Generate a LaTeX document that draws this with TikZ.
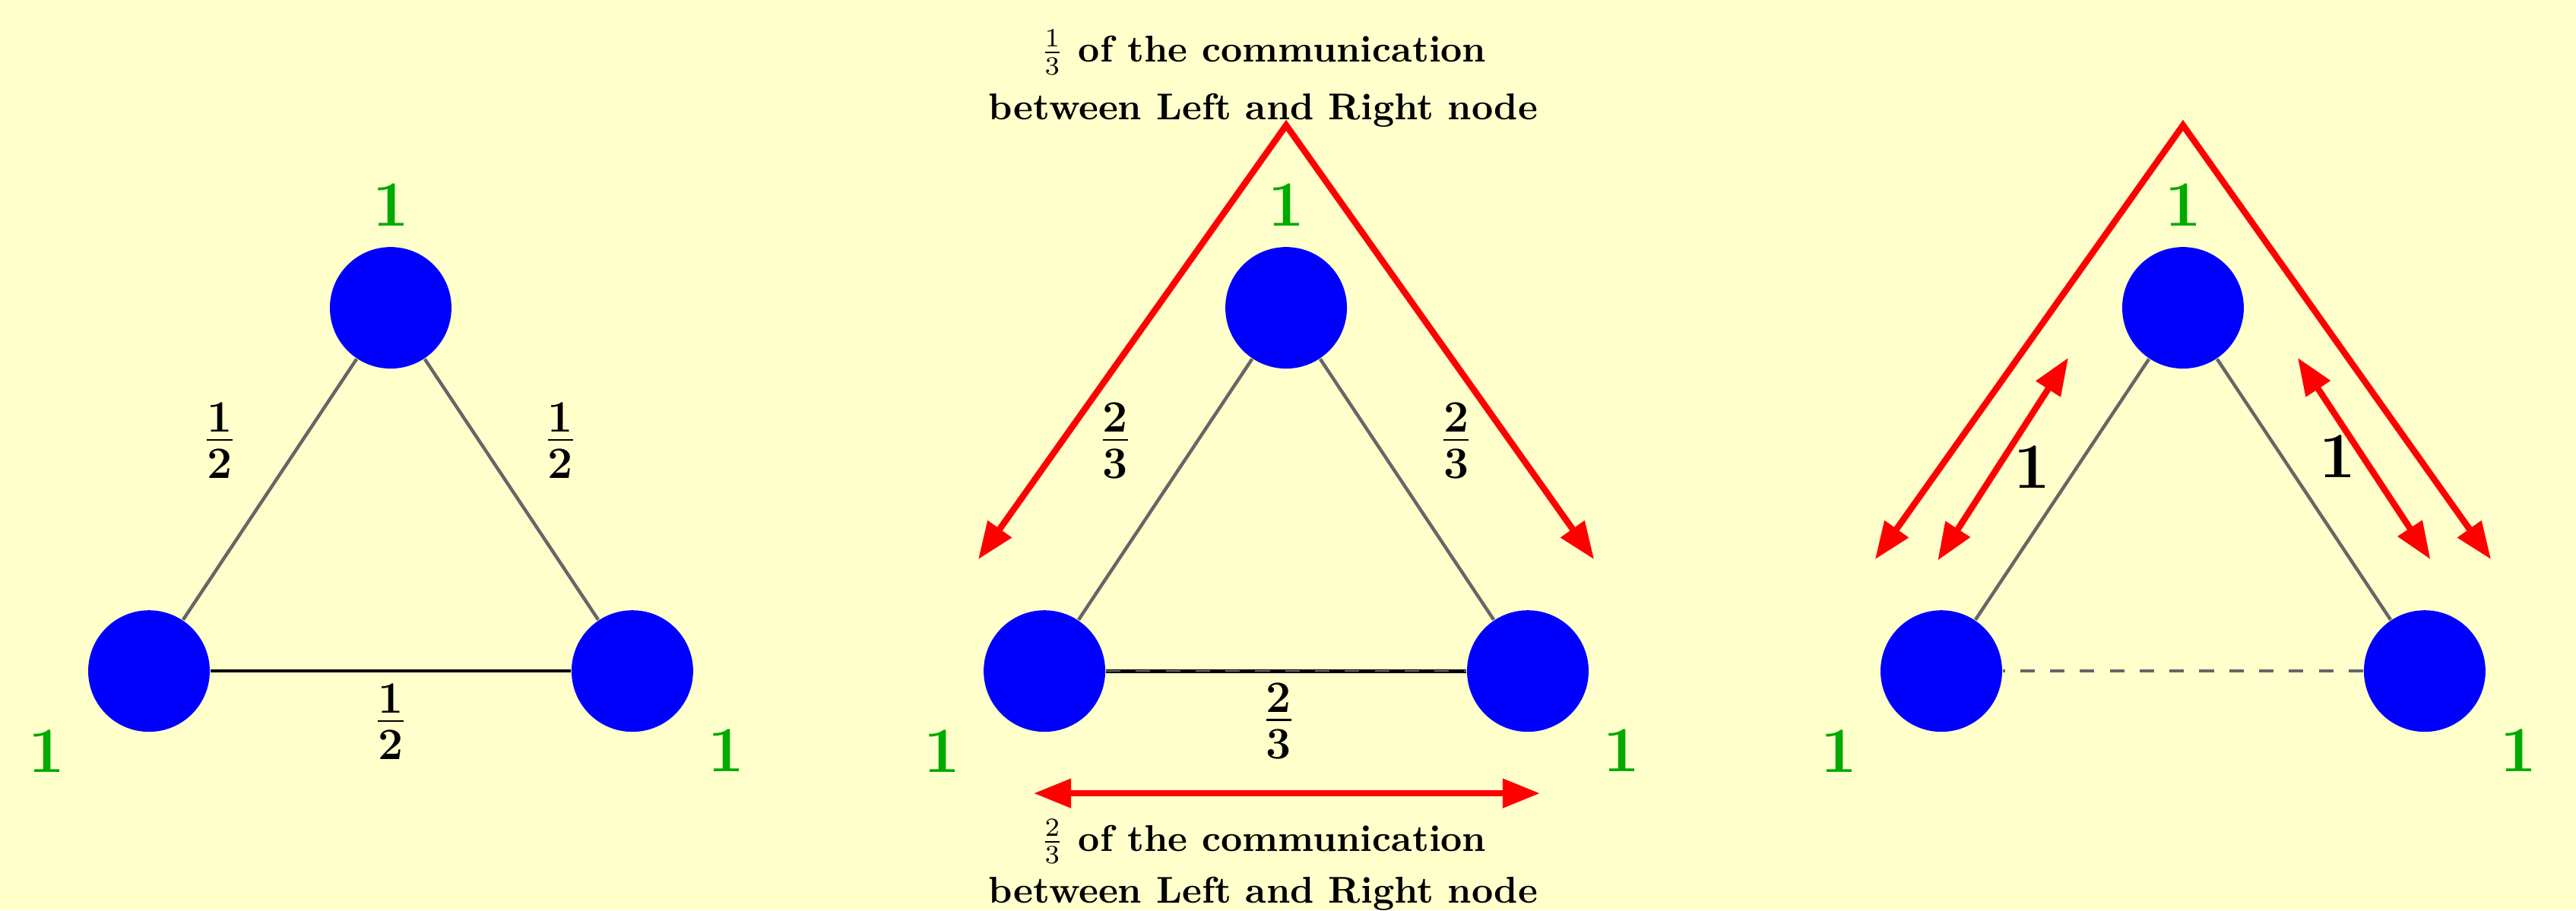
\documentclass[tikz,border=0pt]{standalone}
\usepackage{amsmath}
\usetikzlibrary{arrows.meta}
\definecolor{paper}{RGB}{255,255,204}
\definecolor{wgreen}{RGB}{0,170,0}
\newcommand{\edgefrac}[2]{\frac{\textstyle #1}{\textstyle\rule{0pt}{0.8em}#2}}
\begin{document}
\begin{tikzpicture}[
    vtx/.style={circle,fill=blue,inner sep=0pt,minimum size=1.145cm},
    lnk/.style={draw=black!60,line width=0.9pt},
    flow/.style={draw=red,line width=1.7pt,>={Triangle[length=10pt,width=7.5pt]},<->},
    lbl/.style={text=wgreen,font=\LARGE\bfseries},
    num/.style={font=\LARGE\bfseries},
    frc/.style={font=\large\boldmath},
    note/.style={font=\bfseries,align=center}]
  \useasboundingbox (0,0) rectangle (24.259,8.576);
  \fill[paper] (0,0) rectangle (24.259,8.576);
  % left: every edge carries 1/2
  \begin{scope}[shift={(3.679,5.676)}]
    \node[vtx] (t1) at (0,0) {};
    \node[vtx] (l1) at (-2.276,-3.422) {};
    \node[vtx] (r1) at (2.276,-3.422) {};
    \draw[lnk] (t1) -- (l1);
    \draw[lnk] (t1) -- (r1);
    \draw[black,line width=0.9pt] (l1) -- (r1);
    \node[lbl] (g1t) at (0,0.966) {1};
    \node[lbl] (g1l) at (-3.24,-4.18) {1};
    \node[lbl] (g1r) at (3.16,-4.17) {1};
    \node[frc] (w1l) at (-1.61,-1.253) {$\edgefrac{1}{2}$};
    \node[frc] (w1r) at (1.60,-1.253) {$\edgefrac{1}{2}$};
    \node[frc] (w1b) at (0,-3.90) {$\edgefrac{1}{2}$};
  \end{scope}
  % middle: every edge carries 2/3
  \begin{scope}[shift={(12.112,5.676)}]
    \node[vtx] (t2) at (0,0) {};
    \node[vtx] (l2) at (-2.276,-3.422) {};
    \node[vtx] (r2) at (2.276,-3.422) {};
    \draw[lnk] (t2) -- (l2);
    \draw[lnk] (t2) -- (r2);
    \draw[black,line width=1pt] (l2) -- (r2);
    \draw[black!60,line width=0.45pt,dash pattern=on 3.9pt off 4.1pt] (l2) -- (r2);
    \node[lbl] (g2t) at (0,0.966) {1};
    \node[lbl] (g2l) at (-3.24,-4.18) {1};
    \node[lbl] (g2r) at (3.16,-4.17) {1};
    \node[frc] (w2l) at (-1.61,-1.253) {$\edgefrac{2}{3}$};
    \node[frc] (w2r) at (1.60,-1.253) {$\edgefrac{2}{3}$};
    \node[frc] (w2b) at (-0.07,-3.89) {$\edgefrac{2}{3}$};
    \coordinate (a2) at (0,1.72);
    \coordinate (a2l) at (-2.9,-2.37);
    \coordinate (a2r) at (2.9,-2.37);
    \draw[flow] (a2l) -- (a2) -- (a2r);
    \coordinate (h2l) at (-2.377,-4.574);
    \coordinate (h2r) at (2.391,-4.574);
    \draw[flow] (h2l) -- (h2r);
    \node[note] (n2t) at (-0.215,2.16)
      {$\frac{1}{3}$ of the communication\\[3.5pt] between Left and Right node};
    \node[note] (n2b) at (-0.215,-5.25)
      {$\frac{2}{3}$ of the communication\\[2pt] between Left and Right node};
  \end{scope}
  % right: bottom edge dropped
  \begin{scope}[shift={(20.558,5.676)}]
    \node[vtx] (t3) at (0,0) {};
    \node[vtx] (l3) at (-2.276,-3.422) {};
    \node[vtx] (r3) at (2.276,-3.422) {};
    \draw[lnk] (t3) -- (l3);
    \draw[lnk] (t3) -- (r3);
    \draw[lnk,dash pattern=on 3.9pt off 4.1pt] (r3) -- (l3);
    \node[lbl] (g3t) at (0,0.966) {1};
    \node[lbl] (g3l) at (-3.24,-4.18) {1};
    \node[lbl] (g3r) at (3.16,-4.17) {1};
    \coordinate (a3) at (0,1.72);
    \coordinate (a3l) at (-2.9,-2.37);
    \coordinate (a3r) at (2.9,-2.37);
    \draw[flow] (a3l) -- (a3) -- (a3r);
    \coordinate (i3a) at (-1.08,-0.47);
    \coordinate (i3b) at (-2.31,-2.38);
    \draw[flow] (i3a) -- (i3b);
    \coordinate (j3a) at (1.08,-0.47);
    \coordinate (j3b) at (2.33,-2.37);
    \draw[flow] (j3a) -- (j3b);
    \node[num] (k3l) at (-1.425,-1.503) {1};
    \node[num] (k3r) at (1.453,-1.403) {1};
  \end{scope}
\end{tikzpicture}
\end{document}
